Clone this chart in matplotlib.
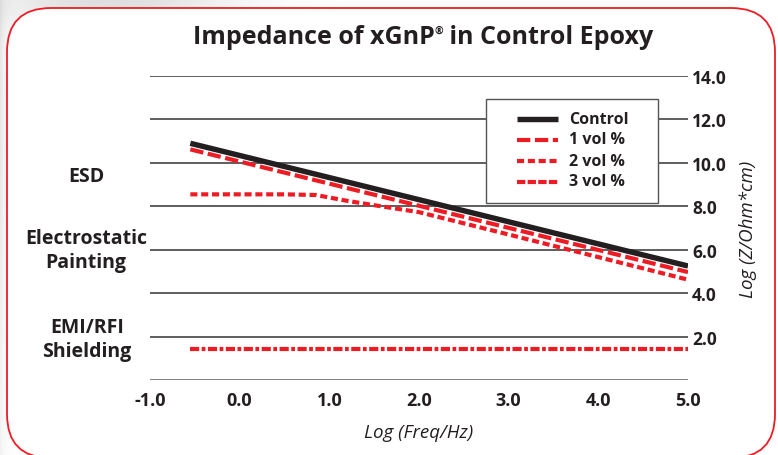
import matplotlib
matplotlib.use("Agg")
import numpy as np
import matplotlib.pyplot as plt
from matplotlib.patches import FancyBboxPatch, Rectangle
from matplotlib.lines import Line2D

plt.rcParams['font.family'] = ['Open Sans', 'DejaVu Sans']

# ---- data ----
x_control = [-0.55, 5.0]
y_control = [10.9, 5.25]

x_1vol = [-0.55, 5.0]
y_1vol = [10.62, 4.97]

x_2vol = [-0.55, 0.0, 0.5, 0.85, 1.2, 1.5, 2.0, 3.0, 4.0, 5.0]
y_2vol = [8.55, 8.55, 8.55, 8.52, 8.25, 8.05, 7.73, 6.7, 5.66, 4.62]

x_3vol = [-0.55, 5.0]
y_3vol = [1.45, 1.45]

series_labels = ["Control", "1 vol %", "2 vol %", "3 vol %"]
xticks = [-1.0, 0.0, 1.0, 2.0, 3.0, 4.0, 5.0]
yticks = [0, 2, 4, 6, 8, 10, 12, 14]
ytick_labels = ["", "2.0", "4.0", "6.0", "8.0", "10.0", "12.0", "14.0"]
regions = ["ESD", "Electrostatic\nPainting", "EMI/RFI\nShielding"]

W, H = 778, 456
RED = "#ED1C24"
BLACK = "#231F20"

fig = plt.figure(figsize=(W / 100, H / 100), dpi=100)
fig.patch.set_facecolor("white")

# background frame axes in pixel coordinates
bg = fig.add_axes([0, 0, 1, 1], zorder=0)
bg.set_xlim(0, W)
bg.set_ylim(H, 0)
bg.axis("off")
gx, gy = np.meshgrid(np.arange(W), np.arange(H))
shade = 1 - 0.13 * np.exp(-(((gx - 110) / 120.0) ** 2 + ((gy - 0) / 30.0) ** 2)) \
          - 0.10 * np.exp(-gx / 6.0) * (0.5 + 0.5 * np.exp(-((gy - 120) / 200.0) ** 2))
bg.imshow(shade, cmap="gray", vmin=0, vmax=1, extent=(0, W, H, 0), zorder=0, interpolation="bilinear")
frame = FancyBboxPatch((7, 9), 768, 450, boxstyle="round,pad=0,rounding_size=44",
                       facecolor="white", edgecolor=RED, linewidth=1.3, zorder=1)
bg.add_patch(frame)
bg.set_xlim(0, W)
bg.set_ylim(H, 0)


def fx(px):
    return px / W


def fy(py):
    return 1 - py / H


# main axes
left, right, top, bottom = 150, 688, 77, 381
ax = fig.add_axes([fx(left), fy(bottom), fx(right - left), (bottom - top) / H], zorder=2)
ax.patch.set_alpha(0)
ax.set_xlim(-1.0, 5.0)
ax.set_ylim(0, 14)

for s in ["top", "left", "right", "bottom"]:
    ax.spines[s].set_visible(False)

for yv in yticks:
    ax.axhline(yv, color="#333333" if yv > 0 else "#5a5a5a", lw=1.1 if yv > 0 else 1.8, zorder=1)

ax.yaxis.tick_right()
ax.set_yticks(yticks)
ax.set_yticklabels(ytick_labels, fontsize=12.5, fontweight="bold", color=BLACK)
ax.tick_params(axis="y", length=0, pad=3)
ax.set_xticks(xticks)
ax.set_xticklabels([f"{v:.1f}" for v in xticks], fontsize=13, fontweight="bold", color=BLACK)
ax.tick_params(axis="x", length=0, pad=8)

styles = [
    dict(color=BLACK, lw=3.9, solid_capstyle="butt"),
    dict(color=RED, lw=3.0, dashes=(3.2, 1.1)),
    dict(color=RED, lw=3.0, dashes=(1.7, 0.9)),
    dict(color=RED, lw=3.0, dashes=(2.2, 0.6, 0.9, 0.6)),
]
ax.plot(x_control, y_control, label=series_labels[0], zorder=5, **styles[0])
ax.plot(x_1vol, y_1vol, label=series_labels[1], zorder=4, **styles[1])
ax.plot(x_2vol, y_2vol, label=series_labels[2], zorder=4, **styles[2])
ax.plot(x_3vol, y_3vol, label=series_labels[3], zorder=4, **styles[3])

# legend box (drawn manually to match the reference layout)
ax_tr = fig.transFigure
fig.add_artist(Rectangle((fx(486), fy(204)), fx(658 - 486), (204 - 100) / H, transform=ax_tr,
                         facecolor="white", edgecolor="#555555", lw=1.0, zorder=8))
legend_styles = [styles[0], styles[1], styles[2], dict(color=RED, lw=3.0, dashes=(2.0, 0.55))]
row_y = [120, 140.5, 161.5, 182.5]
for lab, st, ry in zip(series_labels, legend_styles, row_y):
    fig.add_artist(Line2D([fx(517), fx(558)], [fy(ry), fy(ry)], transform=ax_tr, zorder=9, **st))
    fig.text(fx(569), fy(ry), lab, ha="left", va="center", fontsize=11.5, fontweight="bold",
             color=BLACK, zorder=9)

ax.set_xlabel("Log (Freq/Hz)", fontsize=13.5, style="italic", color=BLACK, labelpad=10)
ax.yaxis.set_label_position("right")
ax.set_ylabel("Log (Z/Ohm*cm)", fontsize=13.5, style="italic", color=BLACK, labelpad=9)

# title with small registered mark
renderer = fig.canvas.get_renderer()
tsize = 18
part1 = "Impedance of xGnP"
part2 = "\u00ae"
part3 = " in Control Epoxy"
t1 = fig.text(0, fy(38), part1, ha="left", va="center", fontsize=tsize, fontweight="bold", color=BLACK)
t2 = fig.text(0, fy(31), part2, ha="left", va="center", fontsize=7.5, fontweight="bold", color=BLACK)
t3 = fig.text(0, fy(38), part3, ha="left", va="center", fontsize=tsize, fontweight="bold", color=BLACK)
w1 = t1.get_window_extent(renderer).width
w2 = t2.get_window_extent(renderer).width
w3 = t3.get_window_extent(renderer).width
total = w1 + w2 + w3
x0 = 423 - total / 2
t1.set_x(fx(x0))
t2.set_x(fx(x0 + w1))
t3.set_x(fx(x0 + w1 + w2))

# region labels
fig.text(fx(86), fy(177), regions[0], ha="center", va="center", fontsize=14, fontweight="bold", color=BLACK)
fig.text(fx(86), fy(251), regions[1], ha="center", va="center", fontsize=14, fontweight="bold",
         color=BLACK, linespacing=1.28)
fig.text(fx(87), fy(340), regions[2], ha="center", va="center", fontsize=14, fontweight="bold",
         color=BLACK, linespacing=1.28)

fig.savefig("out.png", dpi=100)
